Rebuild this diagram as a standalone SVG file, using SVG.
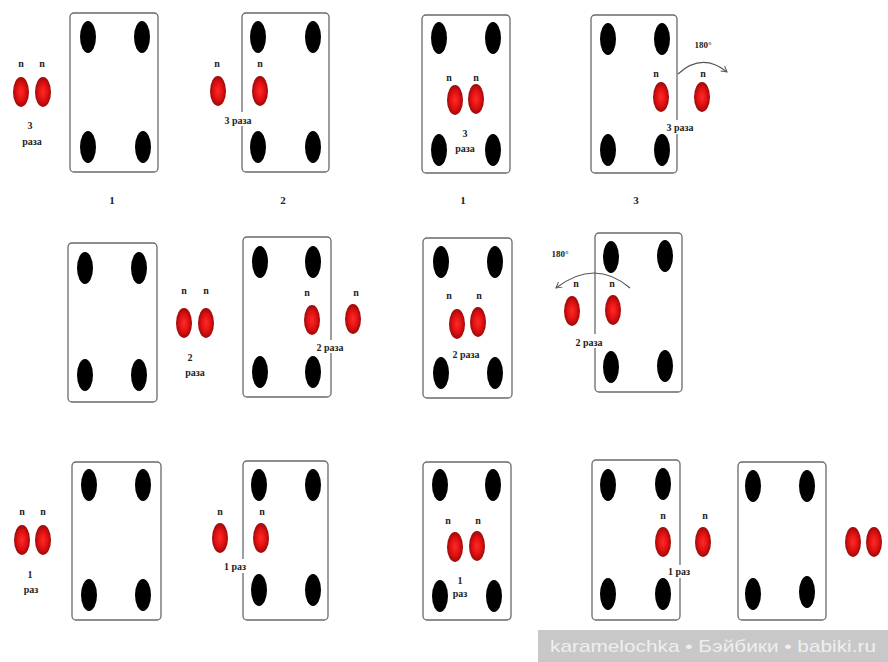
<svg xmlns="http://www.w3.org/2000/svg" width="888" height="662" viewBox="0 0 888 662">
<defs>
<radialGradient id="rg" cx="50%" cy="50%" r="50%">
<stop offset="0" stop-color="#ff2a2a"/>
<stop offset="0.6" stop-color="#e01010"/>
<stop offset="1" stop-color="#9a0a0a"/>
</radialGradient>
<marker id="ah" viewBox="0 0 10 10" refX="8" refY="5" markerWidth="8" markerHeight="8" orient="auto" markerUnits="userSpaceOnUse">
<path d="M1,1 L8,5 L1,9" fill="none" stroke="#555" stroke-width="1.2"/>
</marker>
<style>
.card{fill:#fff;stroke:#6a6a6a;stroke-width:1.3}
.b{fill:#000}
.r{fill:url(#rg)}
.t{font-family:"Liberation Serif",serif;font-size:10px;font-weight:bold;fill:#222;text-anchor:middle}
.d{font-family:"Liberation Serif",serif;font-size:11px;font-weight:bold;fill:#222;text-anchor:middle}
.arc{fill:none;stroke:#555;stroke-width:1.2}
</style>
</defs>
<rect width="888" height="662" fill="#fff"/>

<!-- Row 1 -->
<g id="r1p1">
<rect class="card" x="70" y="13" width="88" height="159" rx="4"/>
<ellipse class="b" cx="88" cy="37" rx="8" ry="16"/>
<ellipse class="b" cx="142" cy="37" rx="8" ry="16"/>
<ellipse class="b" cx="88" cy="147" rx="8" ry="16"/>
<ellipse class="b" cx="143" cy="147" rx="8" ry="16"/>
<ellipse class="r" cx="21" cy="92" rx="8" ry="15"/>
<ellipse class="r" cx="43" cy="92" rx="8" ry="15"/>
<text class="t" x="21" y="67">n</text>
<text class="t" x="42" y="67">n</text>
<text class="t" x="30" y="129">3</text>
<text class="t" x="32" y="145">раза</text>
<text class="d" x="112" y="204">1</text>
</g>
<g id="r1p2">
<rect class="card" x="242" y="13" width="87" height="159" rx="4"/>
<ellipse class="b" cx="258" cy="37" rx="8" ry="16"/>
<ellipse class="b" cx="313" cy="37" rx="8" ry="16"/>
<ellipse class="b" cx="258" cy="147" rx="8" ry="16"/>
<ellipse class="b" cx="313" cy="147" rx="8" ry="16"/>
<rect x="215" y="112" width="45" height="14" fill="#fff"/>
<ellipse class="r" cx="218" cy="91" rx="8" ry="15"/>
<ellipse class="r" cx="260" cy="91" rx="8" ry="15"/>
<text class="t" x="217" y="67">n</text>
<text class="t" x="260" y="67">n</text>
<text class="t" x="238" y="124">3 раза</text>
<text class="d" x="283" y="204">2</text>
</g>
<g id="r1p3">
<rect class="card" x="422" y="15" width="88" height="158" rx="4"/>
<ellipse class="b" cx="439" cy="38" rx="8" ry="16"/>
<ellipse class="b" cx="493" cy="38" rx="8" ry="16"/>
<ellipse class="b" cx="439" cy="150" rx="8" ry="16"/>
<ellipse class="b" cx="493" cy="150" rx="8" ry="16"/>
<ellipse class="r" cx="455" cy="100" rx="8" ry="15"/>
<ellipse class="r" cx="476" cy="99" rx="8" ry="15"/>
<text class="t" x="449" y="81">n</text>
<text class="t" x="476" y="81">n</text>
<text class="t" x="465" y="137">3</text>
<text class="t" x="465" y="152">раза</text>
<text class="d" x="463" y="204">1</text>
</g>
<g id="r1p4">
<rect class="card" x="591" y="15" width="86" height="158" rx="4"/>
<ellipse class="b" cx="608" cy="39" rx="8" ry="16"/>
<ellipse class="b" cx="662" cy="39" rx="8" ry="16"/>
<ellipse class="b" cx="608" cy="150" rx="8" ry="16"/>
<ellipse class="b" cx="662" cy="150" rx="8" ry="16"/>
<rect x="660" y="120" width="44" height="14" fill="#fff"/>
<ellipse class="r" cx="661" cy="97" rx="8" ry="15"/>
<ellipse class="r" cx="702" cy="97" rx="8" ry="15"/>
<text class="t" x="656" y="77">n</text>
<text class="t" x="703" y="77">n</text>
<text class="t" x="680" y="131">3 раза</text>
<text class="t" x="703" y="48" style="font-size:9px">180°</text>
<text class="d" x="636" y="204">3</text>
</g>

<!-- Row 2 -->
<g id="r2p1">
<rect class="card" x="68" y="243" width="89" height="159" rx="4"/>
<ellipse class="b" cx="85" cy="268" rx="8" ry="16"/>
<ellipse class="b" cx="139" cy="268" rx="8" ry="16"/>
<ellipse class="b" cx="85" cy="375" rx="8" ry="16"/>
<ellipse class="b" cx="139" cy="375" rx="8" ry="16"/>
<ellipse class="r" cx="184" cy="323" rx="8" ry="15"/>
<ellipse class="r" cx="206" cy="323" rx="8" ry="15"/>
<text class="t" x="184" y="294">n</text>
<text class="t" x="206" y="294">n</text>
<text class="t" x="190" y="361">2</text>
<text class="t" x="195" y="376">раза</text>
</g>
<g id="r2p2">
<rect class="card" x="243" y="237" width="88" height="160" rx="4"/>
<ellipse class="b" cx="260" cy="262" rx="8" ry="16"/>
<ellipse class="b" cx="313" cy="262" rx="8" ry="16"/>
<ellipse class="b" cx="260" cy="372" rx="8" ry="16"/>
<ellipse class="b" cx="313" cy="372" rx="8" ry="16"/>
<rect x="308" y="340" width="48" height="13" fill="#fff"/>
<ellipse class="r" cx="312" cy="320" rx="8" ry="15"/>
<ellipse class="r" cx="353" cy="319" rx="8" ry="15"/>
<text class="t" x="307" y="296">n</text>
<text class="t" x="356" y="296">n</text>
<text class="t" x="330" y="351">2 раза</text>
</g>
<g id="r2p3">
<rect class="card" x="423" y="238" width="89" height="160" rx="4"/>
<ellipse class="b" cx="441" cy="262" rx="8" ry="16"/>
<ellipse class="b" cx="495" cy="262" rx="8" ry="16"/>
<ellipse class="b" cx="441" cy="373" rx="8" ry="16"/>
<ellipse class="b" cx="495" cy="373" rx="8" ry="16"/>
<ellipse class="r" cx="457" cy="324" rx="8" ry="15"/>
<ellipse class="r" cx="478" cy="322" rx="8" ry="15"/>
<text class="t" x="449" y="299">n</text>
<text class="t" x="479" y="299">n</text>
<text class="t" x="466" y="358">2 раза</text>
</g>
<g id="r2p4">
<rect class="card" x="595" y="233" width="87" height="159" rx="4"/>
<ellipse class="b" cx="611" cy="257" rx="8" ry="16"/>
<ellipse class="b" cx="665" cy="256" rx="8" ry="16"/>
<ellipse class="b" cx="611" cy="367" rx="8" ry="16"/>
<ellipse class="b" cx="665" cy="366" rx="8" ry="16"/>
<rect x="565" y="334" width="48" height="14" fill="#fff"/>
<ellipse class="r" cx="572" cy="311" rx="8" ry="15"/>
<ellipse class="r" cx="613" cy="310" rx="8" ry="15"/>
<text class="t" x="576" y="287">n</text>
<text class="t" x="612" y="287">n</text>
<text class="t" x="589" y="346">2 раза</text>
<text class="t" x="560" y="257" style="font-size:9px">180°</text>
</g>

<!-- Row 3 -->
<g id="r3p1">
<rect class="card" x="72" y="462" width="89" height="158" rx="4"/>
<ellipse class="b" cx="89" cy="485" rx="8" ry="16"/>
<ellipse class="b" cx="143" cy="485" rx="8" ry="16"/>
<ellipse class="b" cx="89" cy="595" rx="8" ry="16"/>
<ellipse class="b" cx="143" cy="595" rx="8" ry="16"/>
<ellipse class="r" cx="22" cy="540" rx="8" ry="15"/>
<ellipse class="r" cx="43" cy="540" rx="8" ry="15"/>
<text class="t" x="22" y="515">n</text>
<text class="t" x="43" y="515">n</text>
<text class="t" x="30" y="578">1</text>
<text class="t" x="31" y="593">раз</text>
</g>
<g id="r3p2">
<rect class="card" x="243" y="461" width="85" height="159" rx="4"/>
<ellipse class="b" cx="259" cy="485" rx="8" ry="16"/>
<ellipse class="b" cx="313" cy="485" rx="8" ry="16"/>
<ellipse class="b" cx="259" cy="590" rx="8" ry="16"/>
<ellipse class="b" cx="313" cy="590" rx="8" ry="16"/>
<rect x="216" y="559" width="36" height="14" fill="#fff"/>
<ellipse class="r" cx="220" cy="538" rx="8" ry="15"/>
<ellipse class="r" cx="261" cy="538" rx="8" ry="15"/>
<text class="t" x="220" y="515">n</text>
<text class="t" x="262" y="515">n</text>
<text class="t" x="235" y="570">1 раз</text>
</g>
<g id="r3p3">
<rect class="card" x="423" y="462" width="88" height="158" rx="4"/>
<ellipse class="b" cx="440" cy="485" rx="8" ry="16"/>
<ellipse class="b" cx="493" cy="485" rx="8" ry="16"/>
<ellipse class="b" cx="440" cy="596" rx="8" ry="16"/>
<ellipse class="b" cx="494" cy="596" rx="8" ry="16"/>
<ellipse class="r" cx="455" cy="547" rx="8" ry="15"/>
<ellipse class="r" cx="477" cy="546" rx="8" ry="15"/>
<text class="t" x="448" y="524">n</text>
<text class="t" x="478" y="524">n</text>
<text class="t" x="460" y="584">1</text>
<text class="t" x="460" y="597">раз</text>
</g>
<g id="r3p4">
<rect class="card" x="592" y="460" width="88" height="160" rx="4"/>
<ellipse class="b" cx="608" cy="485" rx="8" ry="16"/>
<ellipse class="b" cx="663" cy="484" rx="8" ry="16"/>
<ellipse class="b" cx="608" cy="594" rx="8" ry="16"/>
<ellipse class="b" cx="663" cy="594" rx="8" ry="16"/>
<rect x="660" y="565" width="36" height="13" fill="#fff"/>
<ellipse class="r" cx="663" cy="542" rx="8" ry="15"/>
<ellipse class="r" cx="703" cy="542" rx="8" ry="15"/>
<text class="t" x="663" y="519">n</text>
<text class="t" x="705" y="519">n</text>
<text class="t" x="679" y="575">1 раз</text>
</g>
<g id="r3p5">
<rect class="card" x="738" y="462" width="88" height="158" rx="4"/>
<ellipse class="b" cx="753" cy="486" rx="8" ry="16"/>
<ellipse class="b" cx="807" cy="486" rx="8" ry="16"/>
<ellipse class="b" cx="753" cy="594" rx="8" ry="16"/>
<ellipse class="b" cx="807" cy="592" rx="8" ry="16"/>
<ellipse class="r" cx="853" cy="542" rx="8" ry="15"/>
<ellipse class="r" cx="874" cy="542" rx="8" ry="15"/>
</g>

<g id="connectors">
<path class="arc" d="M678,74 Q702,52 727,72" marker-end="url(#ah)"/>
<path class="arc" d="M630,288 Q595,258 556,288" marker-end="url(#ah)"/>
</g>

<g id="watermark">
<rect x="538" y="630" width="350" height="32" fill="#c8c8c8"/>
<text x="713" y="652" font-family="'Liberation Sans',sans-serif" font-size="17" fill="#efefef" text-anchor="middle" textLength="326" lengthAdjust="spacingAndGlyphs">karamelochka • Бэйбики • babiki.ru</text>
</g>
</svg>
